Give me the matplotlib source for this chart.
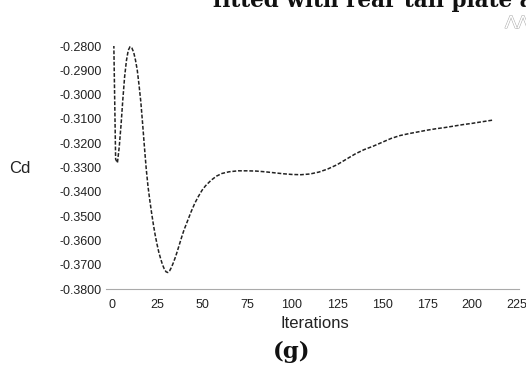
import matplotlib.pyplot as plt
import matplotlib.patheffects as pe

# drag coefficient history over the solver iterations
iterations = [1, 2, 3, 4, 5, 6, 7, 8, 9, 10,
              11, 12, 13, 14, 15, 16, 17, 18, 19, 20,
              21, 22, 23, 24, 25, 26, 27, 28, 29, 30,
              31, 32, 33, 34, 35, 36, 37, 38, 39, 40,
              42, 44, 46, 48, 50, 52, 55, 58, 61, 65,
              70, 75, 80, 85, 90, 95, 100, 105, 110, 115,
              120, 125, 130, 135, 140, 145, 150, 155, 160, 165,
              170, 175, 180, 185, 190, 195, 200, 205, 212]
cd = [-0.2795, -0.3265, -0.3280, -0.3215, -0.3125, -0.3020, -0.2926, -0.2860, -0.2818, -0.2803,
      -0.2808, -0.2825, -0.2857, -0.2898, -0.2960, -0.3030, -0.3120, -0.3215, -0.3305, -0.3378,
      -0.3435, -0.3487, -0.3535, -0.3578, -0.3615, -0.3648, -0.3674, -0.3698, -0.3716, -0.3728,
      -0.3731, -0.3724, -0.3710, -0.3692, -0.3672, -0.3650, -0.3626, -0.3602, -0.3578, -0.3556,
      -0.3518, -0.3480, -0.3446, -0.3418, -0.3393, -0.3374, -0.3352, -0.3335, -0.3324, -0.3317,
      -0.3313, -0.3313, -0.3314, -0.3317, -0.3321, -0.3325, -0.3328, -0.3329, -0.3326, -0.3318,
      -0.3305, -0.3288, -0.3266, -0.3244, -0.3226, -0.3212, -0.3196, -0.3180, -0.3168, -0.3160,
      -0.3153, -0.3146, -0.3140, -0.3135, -0.3129, -0.3123, -0.3118, -0.3112, -0.3104]

x_ticks = [0, 25, 50, 75, 100, 125, 150, 175, 200, 225]
y_ticks = [-0.38, -0.37, -0.36, -0.35, -0.34, -0.33, -0.32, -0.31, -0.30, -0.29, -0.28]

plt.rcParams['font.family'] = ['Liberation Sans', 'DejaVu Sans']

fig = plt.figure(figsize=(5.26, 3.69), dpi=100)
ax = fig.add_axes([0.2010, 0.2160, 0.7854, 0.6593])

ax.plot(iterations, cd, color='#222222', lw=1.1, ls=(0, (2.5, 1.2)))

ax.set_xlim(-3.5, 226)
ax.set_ylim(-0.38, -0.28)
ax.set_xticks(x_ticks)
ax.set_yticks(y_ticks)
ax.set_yticklabels(['%.4f' % v for v in y_ticks])
ax.tick_params(axis='x', length=0, pad=7, labelsize=9, colors='#222222')
ax.tick_params(axis='y', length=0, pad=3, labelsize=9, colors='#222222')

for side in ['top', 'right', 'left']:
    ax.spines[side].set_visible(False)
ax.spines['bottom'].set_color('#aaaaaa')
ax.spines['bottom'].set_linewidth(0.8)

fig.text(314.7 / 526, 1 - 324 / 369, 'Iterations', ha='center', va='center',
         fontsize=12, color='#222222')
fig.text(19.5 / 526, 1 - 168.3 / 369, 'Cd', ha='center', va='center',
         fontsize=12, color='#222222')

# panel caption and the clipped heading above the chart
fig.text(291.5 / 526, 1 - 352 / 369, '(g)', ha='center', va='center',
         fontsize=16.5, fontweight='bold', family='DejaVu Serif', color='#111111')
fig.text(213 / 526, 1 - 7.3 / 369, 'fitted with rear tail plate at', ha='left',
         va='baseline', fontsize=15.5, fontweight='bold', family='DejaVu Serif',
         color='#111111')
fig.text(505 / 526, 1 - 28 / 369, 'ΛΛ', ha='left', va='baseline', fontsize=13,
         color='white', path_effects=[pe.withStroke(linewidth=0.8, foreground='#b0b0b0')])

fig.savefig('out.png', dpi=100)
